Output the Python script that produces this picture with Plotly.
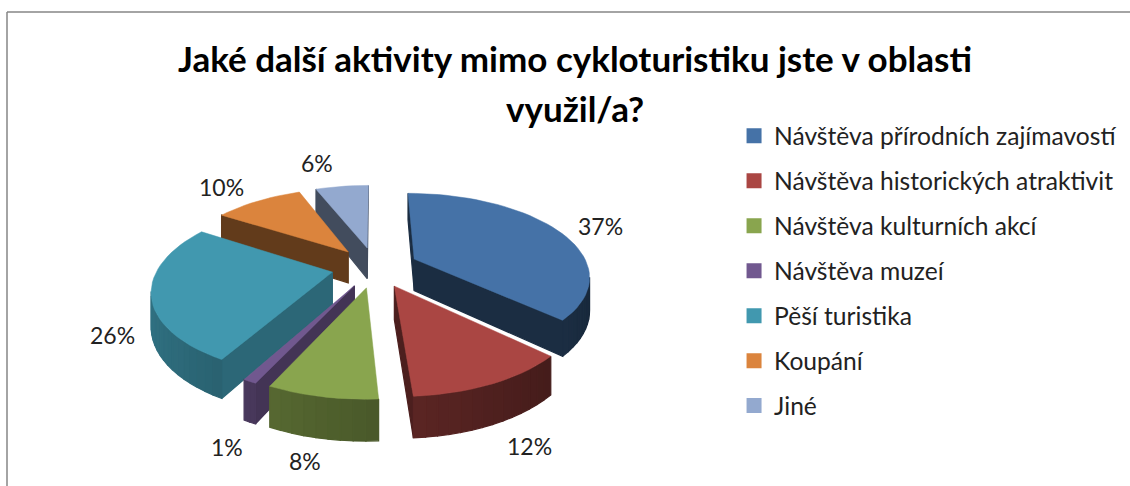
import math
import plotly.graph_objects as go

categories = ["Návštěva přírodních zajímavostí", "Návštěva historických atraktivit", "Návštěva kulturních akcí",
              "Návštěva muzeí", "Pěší turistika", "Koupání", "Jiné"]
values = [37, 12, 8, 1, 26, 10, 6]
title_lines = ["Jaké další aktivity mimo cykloturistiku jste v oblasti", "využil/a?"]

colors = ["#4572A7", "#AA4643", "#89A54E", "#71588F", "#4198AF", "#DB843D", "#93A9CF"]
wall_shade = [0.40, 0.45, 0.5, 0.6, 0.68, 0.45, 0.45]
label_pos = [(600, 226), (529, 446), (305, 461), (227, 447), (112, 335), (221, 187), (317, 163)]

CX, CY, RX, KY, E, PULL, DEPTH = 375, 267, 174, 81, 0.19, 0.25, 32
FONT = "Lato"


def project(X, Y, z=0.0):
    s = 1 / (1 - E * Y)
    return CX + RX * X * s, CY + KY * Y * s + z * s


def shade(hex_color, f):
    r, g, b = (int(hex_color[i:i + 2], 16) for i in (1, 3, 5))
    return f"rgb({int(r * f)},{int(g * f)},{int(b * f)})"


def facing(p, q, m):
    # a vertical face along edge p-q shows if the wedge interior m lies above that edge on screen
    if abs(q[0] - p[0]) < 1e-6:
        return False
    t = (m[0] - p[0]) / (q[0] - p[0])
    return m[1] < p[1] + t * (q[1] - p[1])


fig = go.Figure()
for name, color in zip(categories, colors):
    fig.add_trace(go.Scatter(x=[None], y=[None], mode="markers", name=name,
                             marker=dict(symbol="square", size=15, color=color), legendgroup=name))

total = sum(values)
starts, acc = [], 0
for v in values:
    starts.append(acc)
    acc += v
order = sorted(range(len(values)),
               key=lambda i: -math.cos(2 * math.pi * (starts[i] + values[i] / 2) / total))


def add_poly(pts, col, width=1.2):
    fig.add_trace(go.Scatter(x=[p[0] for p in pts] + [pts[0][0]], y=[p[1] for p in pts] + [pts[0][1]],
                             mode="lines", fill="toself", fillcolor=col,
                             line=dict(width=width, color=col), hoverinfo="skip", showlegend=False))


for i in order:
    a0 = 2 * math.pi * starts[i] / total
    a1 = 2 * math.pi * (starts[i] + values[i]) / total
    mid = (a0 + a1) / 2
    ox, oy = PULL * math.sin(mid), -PULL * math.cos(mid)
    n = max(2, int(math.degrees(a1 - a0) / 3))
    ang = [a0 + (a1 - a0) * k / n for k in range(n + 1)]
    rim = [(ox + math.sin(a), oy - math.cos(a)) for a in ang]
    inner = project(ox + 0.5 * math.sin(mid), oy - 0.5 * math.cos(mid))
    faces = []
    for wp, wq in (((ox, oy), rim[0]), ((ox, oy), rim[-1])):
        p, q = project(*wp), project(*wq)
        if facing(p, q, inner):
            faces.append(((wp[1] + wq[1]) / 2,
                          [p, q, project(*wq, DEPTH), project(*wp, DEPTH)],
                          shade(colors[i], wall_shade[i])))
    for k in range(n):
        wp, wq = rim[k], rim[k + 1]
        p, q = project(*wp), project(*wq)
        if facing(p, q, inner):
            x = (wp[0] + wq[0]) / 2 - ox
            faces.append(((wp[1] + wq[1]) / 2,
                          [p, q, project(*wq, DEPTH), project(*wp, DEPTH)],
                          shade(colors[i], 0.55 - 0.2 * x)))
    for _, pts, col in sorted(faces, key=lambda f: f[0]):
        add_poly(pts, col)
    add_poly([project(ox, oy)] + [project(*r) for r in rim], colors[i], 0.5)

annotations = [dict(x=x, y=y, text=f"{v}%", showarrow=False, font=dict(size=23, color="#222", family=FONT))
               for (x, y), v in zip(label_pos, values)]
annotations.append(dict(x=575, y=58, text=title_lines[0], showarrow=False,
                        font=dict(size=35, family=FONT, color="#000", weight="bold")))
annotations.append(dict(x=575, y=108, text=title_lines[1], showarrow=False,
                        font=dict(size=35, family=FONT, color="#000", weight="bold")))

fig.update_layout(
    width=1130, height=486, margin=dict(l=0, r=0, t=0, b=0),
    paper_bgcolor="white", plot_bgcolor="white",
    font=dict(family=FONT, size=24.6, color="#222"),
    xaxis=dict(range=[0, 1130], visible=False, fixedrange=True),
    yaxis=dict(range=[486, 0], visible=False, fixedrange=True),
    annotations=annotations,
    shapes=[dict(type="line", x0=7, x1=7, y0=12, y1=486, line=dict(color="#868686", width=1.5)),
            dict(type="line", x0=7, x1=1130, y0=12, y1=12, line=dict(color="#868686", width=1.5))],
    legend=dict(x=0.6496, y=0.767, xanchor="left", yanchor="top", tracegroupgap=10,
                font=dict(size=24.6, family=FONT), bgcolor="rgba(0,0,0,0)", itemclick=False, itemdoubleclick=False),
)
fig.write_html("out.html", config=dict(displayModeBar=False),
               post_script="document.body.style.margin='0';document.body.style.overflow='hidden';window.dispatchEvent(new Event('resize'));")
